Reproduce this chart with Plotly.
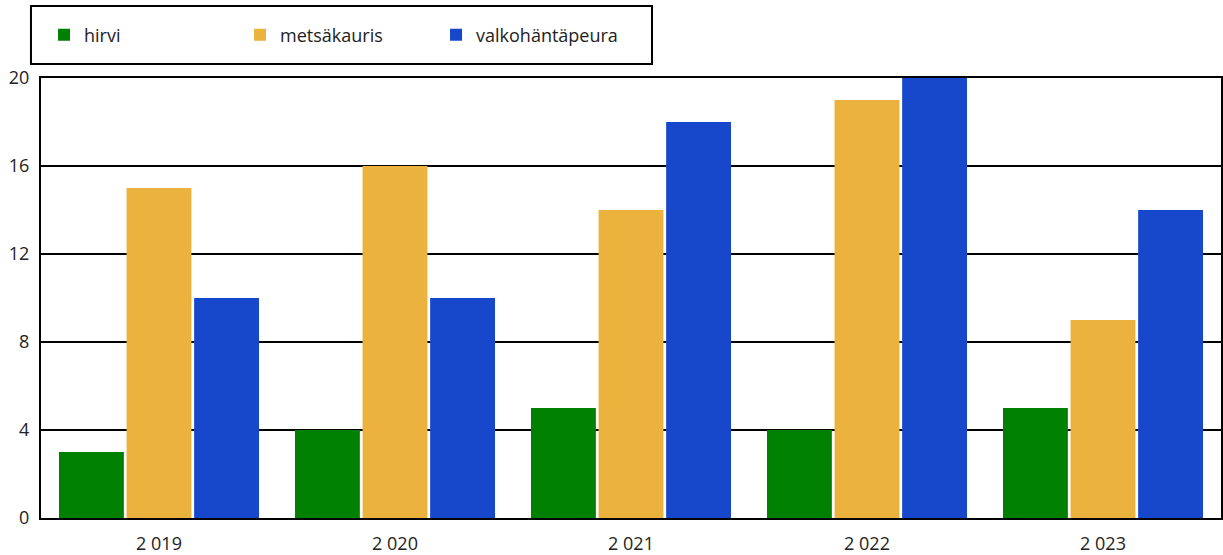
import plotly.graph_objects as go

years = ["2 019", "2 020", "2 021", "2 022", "2 023"]
hirvi = [3, 4, 5, 4, 5]
metsakauris = [15, 16, 14, 19, 9]
valkohantapeura = [10, 10, 18, 20, 14]

series = [
    ("hirvi", hirvi, "#008000"),
    ("metsäkauris", metsakauris, "#EBB33E"),
    ("valkohäntäpeura", valkohantapeura, "#1748CC"),
]

fig = go.Figure()
for name, values, color in series:
    fig.add_trace(go.Bar(x=years, y=values, name=name, marker_color=color,
                         marker_line_width=0))

fig.update_layout(
    width=1223, height=555,
    margin=dict(l=41, r=2, t=78, b=37, autoexpand=False),
    paper_bgcolor="white", plot_bgcolor="white",
    font=dict(family="Open Sans", size=18, color="#222222"),
    barmode="group", bargap=0.141, bargroupgap=0.04,
    showlegend=True,
    legend=dict(
        orientation="h", xref="container", yref="container",
        x=0.036, y=0.937, xanchor="left", yanchor="middle",
        borderwidth=0, bgcolor="rgba(0,0,0,0)",
        entrywidth=151, entrywidthmode="pixels",
        font=dict(size=18), itemsizing="constant",
    ),
)
# legend frame
fig.add_shape(type="rect", xref="paper", yref="paper",
              x0=-0.0085, x1=0.5178, y0=1.0318, y1=1.1636,
              line=dict(color="black", width=2), fillcolor="rgba(0,0,0,0)")
fig.update_xaxes(showline=True, linecolor="black", linewidth=2, mirror=True,
                 ticks="", showgrid=False, automargin=False,
                 ticklabelstandoff=8)
fig.update_yaxes(range=[0, 20], tickvals=[0, 4, 8, 12, 16, 20],
                 showline=True, linecolor="black", linewidth=2, mirror=True,
                 showgrid=True, gridcolor="black", gridwidth=1.5,
                 zeroline=False, ticks="", automargin=False,
                 ticklabelstandoff=6)

# drop the default page margin so the figure sits at the window's corner
fig.write_html("out.html", config={"displayModeBar": False},
               post_script="document.body.style.margin='0';")
